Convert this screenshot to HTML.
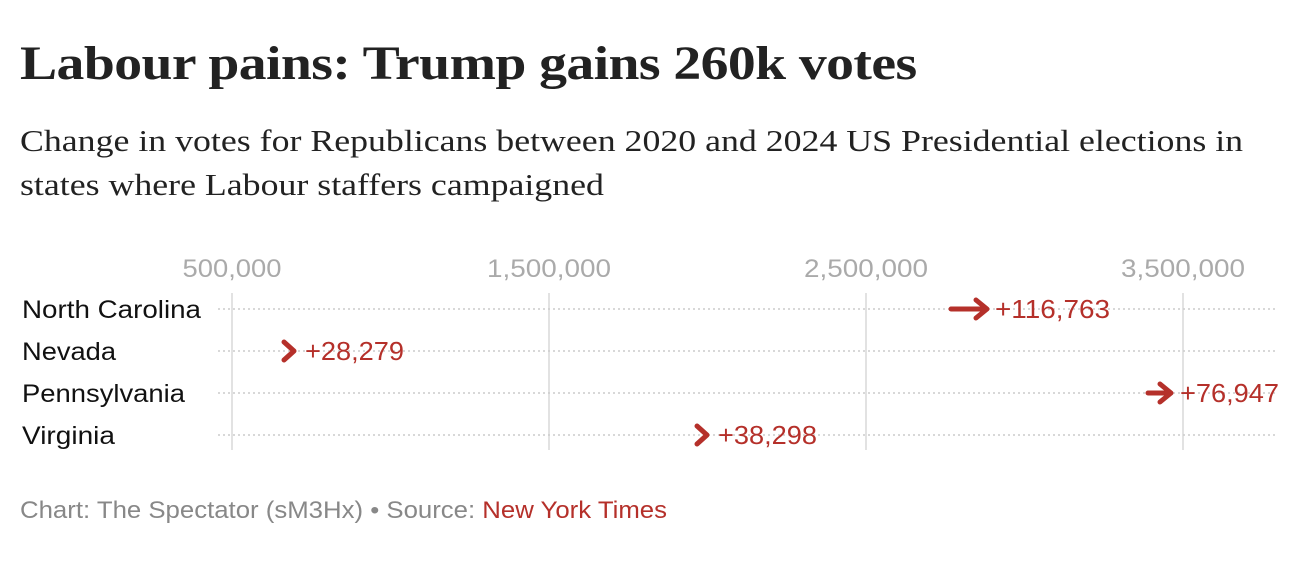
<!DOCTYPE html>
<html><head><meta charset="utf-8"><style>
body{margin:0;width:1304px;height:574px;background:#fff;position:relative;overflow:hidden}
.t{position:absolute;white-space:nowrap;transform-origin:0 0}
</style></head><body>
<div class="t" style="left:20px;top:36px;font:bold 48px 'Liberation Serif',serif;color:#222;letter-spacing:-0.5px;transform:scaleX(1.16)">Labour pains: Trump gains 260k votes</div>
<div class="t" style="left:20px;top:119px;font:31px/44px 'Liberation Serif',serif;color:#222;transform:scaleX(1.155)">Change in votes for Republicans between 2020 and 2024 US Presidential elections in<br>states where Labour staffers campaigned</div>
<svg width="1304" height="574" style="position:absolute;left:0;top:0" font-family="Liberation Sans, sans-serif">
<g fill="#aaa" font-size="25" text-anchor="middle">
<text x="232" y="277" textLength="99" lengthAdjust="spacingAndGlyphs">500,000</text><text x="549" y="277" textLength="124" lengthAdjust="spacingAndGlyphs">1,500,000</text><text x="866" y="277" textLength="124" lengthAdjust="spacingAndGlyphs">2,500,000</text><text x="1183" y="277" textLength="124" lengthAdjust="spacingAndGlyphs">3,500,000</text></g>
<g stroke="#e2e2e2" stroke-width="2"><line x1="232" y1="293" x2="232" y2="450"/><line x1="549" y1="293" x2="549" y2="450"/><line x1="866" y1="293" x2="866" y2="450"/><line x1="1183" y1="293" x2="1183" y2="450"/></g>
<g stroke="#ccc" stroke-width="1.5" stroke-dasharray="2,3"><line x1="218" y1="309" x2="1278" y2="309"/><line x1="218" y1="351" x2="1278" y2="351"/><line x1="218" y1="393" x2="1278" y2="393"/><line x1="218" y1="435" x2="1278" y2="435"/></g>
<g fill="#111" font-size="25"><text x="22" y="318" textLength="179" lengthAdjust="spacingAndGlyphs">North Carolina</text><text x="22" y="360" textLength="94" lengthAdjust="spacingAndGlyphs">Nevada</text><text x="22" y="402" textLength="163" lengthAdjust="spacingAndGlyphs">Pennsylvania</text><text x="22" y="444" textLength="93" lengthAdjust="spacingAndGlyphs">Virginia</text></g>
<g stroke="#b5302a" stroke-width="5" fill="none" stroke-linecap="round" stroke-linejoin="round">
<path d="M951 309H986M976 300L987 309L976 318"/>
<path d="M284 342L294 351L284 360"/>
<path d="M1148 393H1170M1160 384L1171 393L1160 402"/>
<path d="M697 426L707 435L697 444"/>
</g>
<g fill="#b5302a" font-size="26"><text x="995" y="318" textLength="115" lengthAdjust="spacingAndGlyphs">+116,763</text><text x="305" y="360" textLength="99" lengthAdjust="spacingAndGlyphs">+28,279</text><text x="1180" y="402" textLength="99" lengthAdjust="spacingAndGlyphs">+76,947</text><text x="718" y="444" textLength="99" lengthAdjust="spacingAndGlyphs">+38,298</text></g>
<text x="20" y="518" font-size="24" fill="#888" textLength="647" lengthAdjust="spacingAndGlyphs">Chart: The Spectator (sM3Hx) • Source: <tspan fill="#b5302a">New York Times</tspan></text>
</svg>
</body></html>
